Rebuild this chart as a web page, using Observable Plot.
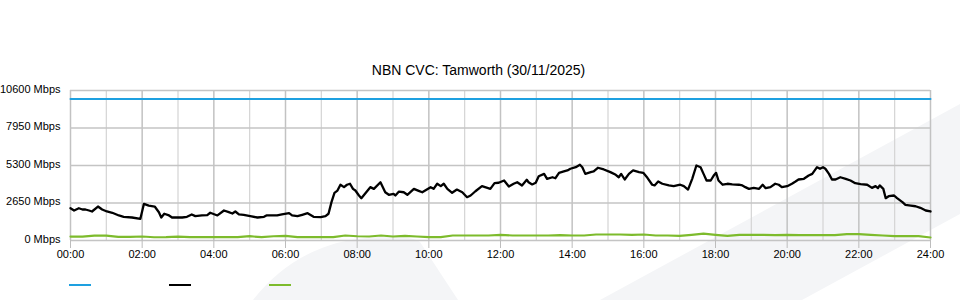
<!DOCTYPE html>
<html>
<head>
<meta charset="utf-8">
<script src="https://cdn.jsdelivr.net/npm/d3@7"></script>
<script src="https://cdn.jsdelivr.net/npm/@observablehq/plot@0.6"></script>
<style>
  html, body { margin: 0; padding: 0; background: #fff; }
  #wrap { position: relative; width: 960px; height: 300px; overflow: hidden; font-family: "Liberation Sans", Arial, sans-serif; }
  #decor { position: absolute; left: 0; top: 0; z-index: 0; }
  #chart { position: absolute; left: 0; top: 0; z-index: 1; }
  #title { position: absolute; left: 0; top: 62px; width: 957px; text-align: center; font-size: 14px; color: #000; z-index: 2; }
  .sw { position: absolute; top: 284px; width: 22px; height: 2px; z-index: 2; }
</style>
</head>
<body>
<div id="wrap">
  <svg id="decor" width="960" height="300">
    <path d="M600 300 L960 104 L960 214 L802 300 Z" fill="#f4f5f7"/>
    <path d="M253 300 Q 300 240 378 237 Q 412 236 420 242 L 458 300 Z" fill="#f4f5f7"/>
  </svg>
  <div id="chart"></div>
  <div id="title">NBN CVC: Tamworth (30/11/2025)</div>
  <div class="sw" style="left:69px;background:#1ea0e0"></div>
  <div class="sw" style="left:169px;background:#000"></div>
  <div class="sw" style="left:269px;background:#7dbb2c"></div>
</div>
<script>
// y-axis ticks (Mbps)
const yTicks = [0, 2650, 5300, 7950, 10600];
// x-axis tick labels (hours)
const xTickHours = [0, 2, 4, 6, 8, 10, 12, 14, 16, 18, 20, 22, 24];

// Capacity (blue)
const capTimes = [0, 1440];
const capValues = [10000, 10000];

// Traffic (black), minutes since midnight
const trafficTimes = [0,6,14,20,25,31,36,46,53,61,70,81,89,103,117,123,131,141,148,152,157,165,170,187,195,203,209,220,229,234,246,257,265,271,276,282,290,301,313,324,328,346,354,366,371,380,388,397,407,419,427,432,437,442,447,452,458,463,468,473,477,483,487,502,508,519,527,533,541,544,550,558,564,575,583,589,603,608,614,620,625,631,639,647,656,664,670,678,689,698,703,710,717,723,726,734,742,748,756,764,767,773,779,784,793,798,807,812,818,826,832,837,846,853,857,862,871,876,883,893,904,913,918,922,928,935,942,952,959,966,974,978,984,991,1002,1010,1021,1027,1034,1041,1048,1055,1060,1065,1072,1077,1081,1085,1092,1100,1108,1119,1125,1130,1136,1144,1153,1159,1164,1172,1180,1186,1191,1200,1208,1214,1219,1228,1236,1242,1250,1255,1260,1264,1270,1275,1281,1289,1298,1306,1314,1323,1334,1342,1348,1352,1355,1361,1365,1370,1379,1384,1393,1398,1407,1415,1423,1432,1440];
const trafficValues = [2280,2120,2280,2190,2190,2120,2050,2400,2190,2050,1960,1770,1675,1625,1530,2590,2470,2400,2000,1625,1890,1770,1625,1625,1675,1840,1720,1770,1790,1960,1770,2120,2000,1910,2050,1840,1815,1720,1625,1675,1770,1770,1840,1930,1770,1720,1815,1930,1675,1650,1720,1890,2710,3370,3530,3940,3770,3940,4010,3650,3530,3180,2990,3770,3650,4120,3410,3230,3300,3180,3460,3410,3230,3650,3510,3410,3770,3650,4010,3840,4010,3650,3370,3600,3410,3060,3180,3480,3840,3720,3650,4050,4080,4190,4240,3820,4010,4120,3890,4290,4120,3960,4080,4540,4710,4360,4470,4400,4780,4880,4950,5070,5180,5350,5180,4710,4830,4880,5140,5020,4830,4640,4470,4710,4310,4710,4950,4830,4780,4430,3940,3890,4170,4010,3890,3840,3940,3840,3600,4360,5300,5180,4710,4240,4240,4590,4780,4240,3940,4010,3960,3940,3890,3770,3650,3720,3650,3940,3700,3770,4010,3940,3770,3840,4010,4170,4310,4360,4590,4710,5180,5070,5180,5070,4710,4310,4310,4470,4360,4240,4050,3980,3940,3720,3840,3700,3890,3650,2990,3130,3180,2990,2710,2520,2470,2420,2310,2120,2050];

// Second series (green), every 20 minutes
const greenTimes = d3.range(0, 1441, 20);
const greenValues = [280,280,350,350,250,250,283,230,233,280,233,233,233,233,233,304,233,300,332,233,233,233,233,353,300,283,353,283,330,283,233,233,353,353,353,353,403,353,353,353,353,380,353,353,424,424,424,400,424,353,353,330,403,480,403,330,403,403,403,380,403,375,375,375,375,445,445,400,353,304,304,304,212];

const toRows = (ts, vs) => ts.map((t, i) => ({h: t / 60, v: vs[i]}));
const cap = toRows(capTimes, capValues);
const traffic = toRows(trafficTimes, trafficValues);
const green = toRows(greenTimes, greenValues);

const hours = d3.range(0, 25);

const chart = Plot.plot({
  width: 960,
  height: 300,
  marginLeft: 70,
  marginRight: 30,
  marginTop: 90,
  marginBottom: 60,
  style: {background: "transparent", fontFamily: "'Liberation Sans', Arial, sans-serif", fontSize: "11px", color: "#000"},
  x: {domain: [0, 24]},
  y: {domain: [0, 10600]},
  marks: [
    Plot.ruleX(hours.filter(h => h % 2 === 1), {stroke: "#d4d4d4", strokeWidth: 1.2}),
    Plot.ruleX(hours.filter(h => h % 2 === 0), {stroke: "#c2c2c2", strokeWidth: 1.5}),
    Plot.ruleY(yTicks, {stroke: "#c4c4c4", strokeWidth: 1.5}),
    Plot.axisY({ticks: yTicks, tickSize: 0, tickPadding: 10, dy: -1.5, tickFormat: d => `${d} Mbps`, fill: "#000", label: null}),
    Plot.axisX({ticks: xTickHours, tickSize: 8, tickPadding: 2, stroke: "#bdbdbd", fill: "#000", tickFormat: d => String(d).padStart(2, "0") + ":00", label: null}),
    Plot.line(cap, {x: "h", y: "v", stroke: "#1ea0e0", strokeWidth: 2}),
    Plot.line(green, {x: "h", y: "v", stroke: "#7dbb2c", strokeWidth: 2.2}),
    Plot.line(traffic, {x: "h", y: "v", stroke: "#000", strokeWidth: 2.3})
  ]
});
document.getElementById("chart").appendChild(chart);
</script>
</body>
</html>
